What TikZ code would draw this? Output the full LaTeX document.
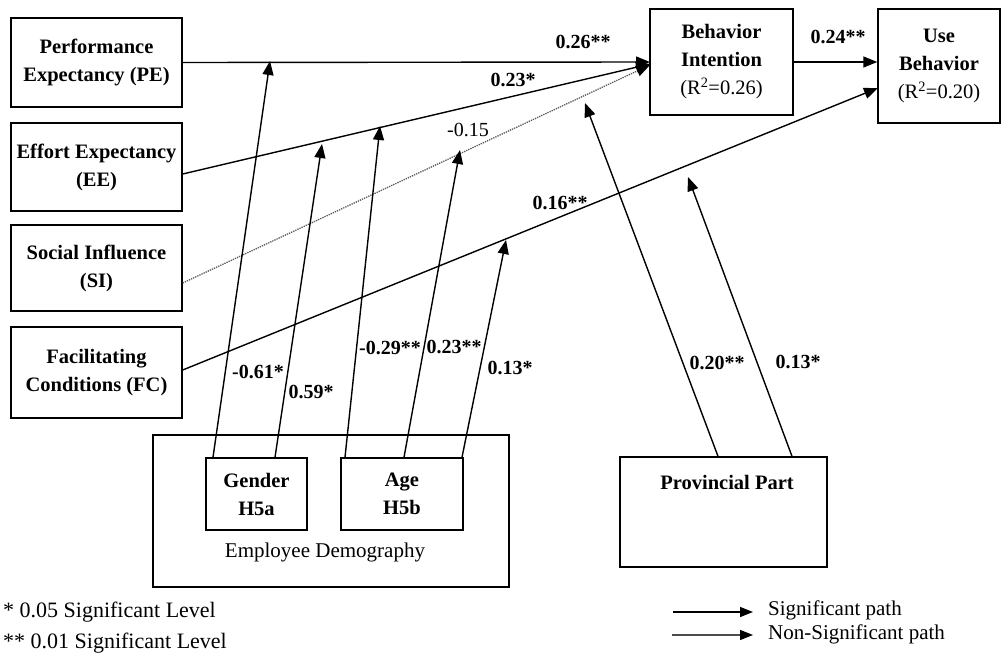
\documentclass[tikz,border=0pt]{standalone}
\usepackage{fontspec}
\setmainfont{Liberation Serif}
\usetikzlibrary{arrows.meta,calc}
\begin{document}
\begin{tikzpicture}[x=1pt,y=-1pt,
  box/.style={draw, line width=1.4pt, inner sep=0pt, align=center,
    font=\bfseries\fontsize{20.5}{28}\selectfont},
  tip/.style={-{Triangle[length=14pt,width=11pt,color=black]}},
  sig/.style={line width=1.4pt, tip},
  nsig/.style={line width=1.3pt, densely dotted, gray!70!black, tip},
  lbl/.style={font=\bfseries\fontsize{20}{22}\selectfont, inner sep=0pt},
  rlbl/.style={font=\fontsize{20}{22}\selectfont, inner sep=0pt},
  legtxt/.style={font=\fontsize{22}{24}\selectfont, inner sep=0pt, anchor=west},
]
\useasboundingbox (0,0) rectangle (1003,655);

% boxes
\node[box, minimum width=171pt, minimum height=89pt] (pe) at (96.5,62.5) {Performance\\Expectancy (PE)};
\node[box, minimum width=171pt, minimum height=88pt] (ee) at (96.5,167) {Effort Expectancy\\(EE)};
\node[box, minimum width=171pt, minimum height=86pt] (si) at (96.5,268) {Social Influence\\(SI)};
\node[box, minimum width=171pt, minimum height=91pt] (fc) at (96.5,372.5) {Facilitating\\Conditions (FC)};
\node[box, minimum width=143pt, minimum height=106pt] (bi) at (721.5,62) {Behavior\\Intention\\\textnormal{(R\textsuperscript{2}=0.26)}};
\node[box, minimum width=122pt, minimum height=114pt] (ub) at (939,66) {Use\\Behavior\\\textnormal{(R\textsuperscript{2}=0.20)}};
\node[box, minimum width=356pt, minimum height=152pt] (emp) at (331,511) {};
\node[box, minimum width=101pt, minimum height=72pt] (gender) at (256.5,494) {Gender\\H5a};
\node[box, minimum width=122pt, minimum height=72pt] (age) at (402,494) {Age\\H5b};
\node[box, minimum width=207pt, minimum height=110pt] (prov) at (723.5,512) {};
\node[font=\bfseries\fontsize{20.5}{24}\selectfont, inner sep=0pt] (provtxt) at (727,482) {Provincial Part};
\node[font=\fontsize{21}{24}\selectfont, inner sep=0pt] (emptxt) at (325,552) {Employee Demography};

% arrival points
\coordinate (bi1) at (650,62);
\coordinate (bi2) at (650,64);
\coordinate (bi3) at (650,65);
\coordinate (ub1) at (878,88);
\coordinate (t1) at (270,61);
\coordinate (t2) at (322,144);
\coordinate (t3) at (380,126);
\coordinate (t4) at (460,150);
\coordinate (t5) at (506,240);
\coordinate (t6) at (585,103);
\coordinate (t7) at (688,177);

% main paths
\draw[sig] (pe.east) -- (bi1);
\draw[sig] ($(ee.east)+(0,7)$) -- (bi2);
\draw[nsig] ($(si.east)+(0,15)$) -- (bi3);
\draw[sig] ($(fc.east)+(0,-2.5)$) -- (ub1);
\draw[sig] (bi.east) -- (ub.west |- bi.east);

% moderating paths
\draw[sig] ($(gender.north)+(-43.5,0)$) -- (t1);
\draw[sig] ($(gender.north)+(18.5,0)$) -- (t2);
\draw[sig] ($(age.north)+(-57,0)$) -- (t3);
\draw[sig] ($(age.north)+(2,0)$) -- (t4);
\draw[sig] ($(age.north)+(60,0)$) -- (t5);
\draw[sig] ($(prov.north)+(-5.5,0)$) -- (t6);
\draw[sig] ($(prov.north)+(68.5,0)$) -- (t7);

% labels
\node[lbl] (l1) at (583,42) {0.26**};
\node[lbl] (l2) at (513,80) {0.23*};
\node[rlbl] (l3) at (468,130) {-0.15};
\node[lbl] (l4) at (560,203) {0.16**};
\node[lbl] (l5) at (838,37) {0.24**};
\node[lbl] (l6) at (258,372) {-0.61*};
\node[lbl] (l7) at (311,392) {0.59*};
\node[lbl] (l8) at (390,348) {-0.29**};
\node[lbl] (l9) at (454,347) {0.23**};
\node[lbl] (l10) at (510,368) {0.13*};
\node[lbl] (l11) at (717,363) {0.20**};
\node[lbl] (l12) at (798,362) {0.13*};

% legend
\node[legtxt] (lg1) at (3,612) {* 0.05 Significant Level};
\node[legtxt] (lg2) at (3,643) {** 0.01 Significant Level};
\node[legtxt, font=\fontsize{21}{24}\selectfont] (lg3) at (768,610) {Significant path};
\node[legtxt, font=\fontsize{21}{24}\selectfont] (lg4) at (768,634) {Non-Significant path};
\coordinate (la1) at (673,612);
\coordinate (la2) at (672,635);
\draw[line width=1.4pt, -{Triangle[length=13pt,width=10pt]}] (la1) -- ($(lg3.west |- la1)+(-15,0)$);
\draw[line width=1.1pt, gray!60!black, -{Triangle[length=13pt,width=10pt,color=black]}] (la2) -- ($(lg4.west |- la2)+(-15,0)$);
\end{tikzpicture}
\end{document}
